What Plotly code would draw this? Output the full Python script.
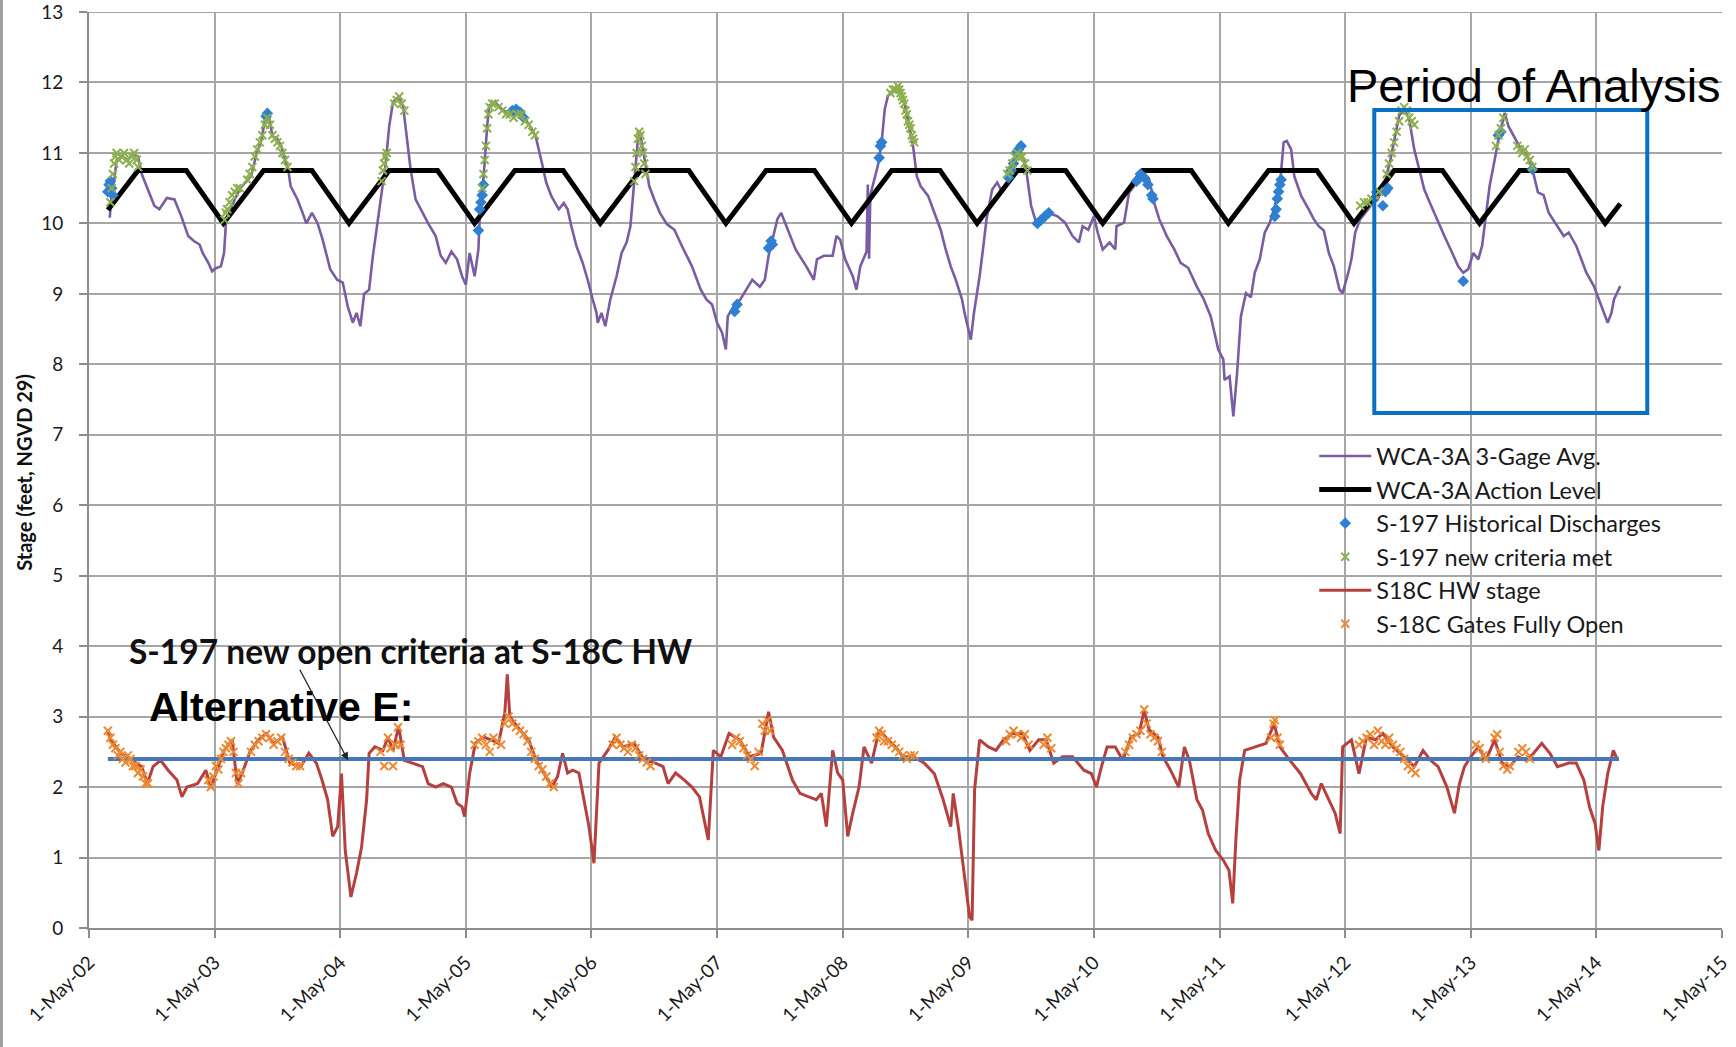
import plotly.graph_objects as go

# x values are years elapsed since 1-May-2002 (axis ticks are labelled with dates)
tick_vals = list(range(14))
tick_text = ["1-May-02", "1-May-03", "1-May-04", "1-May-05", "1-May-06", "1-May-07", "1-May-08",
             "1-May-09", "1-May-10", "1-May-11", "1-May-12", "1-May-13", "1-May-14", "1-May-15"]

# WCA-3A 3-Gage Avg.
purple_t = [0.165, 0.18, 0.20, 0.22, 0.265, 0.31, 0.35, 0.39, 0.42, 0.48, 0.52, 0.56, 0.62, 0.68, 0.735,
            0.79, 0.835, 0.88, 0.905, 0.95, 0.98, 1.005, 1.05, 1.075, 1.09, 1.12, 1.16, 1.205, 1.29, 1.33,
            1.375, 1.405, 1.43, 1.46, 1.50, 1.53, 1.56, 1.59, 1.605, 1.66, 1.70, 1.73, 1.775, 1.82, 1.86,
            1.92, 1.975, 2.02, 2.06, 2.10, 2.13, 2.16, 2.19, 2.23, 2.26, 2.29, 2.33, 2.36, 2.39, 2.42,
            2.46, 2.50, 2.53, 2.56, 2.60, 2.64, 2.70, 2.76, 2.80, 2.84, 2.885, 2.93, 2.97, 3.0, 3.03,
            3.07, 3.10, 3.11, 3.14, 3.17, 3.185, 3.23, 3.30, 3.37, 3.44, 3.51, 3.555, 3.60, 3.64, 3.68,
            3.74, 3.78, 3.81, 3.84, 3.88, 3.93, 3.97, 4.01, 4.04, 4.05, 4.08, 4.11, 4.15, 4.20, 4.24,
            4.28, 4.31, 4.34, 4.37, 4.385, 4.46, 4.50, 4.545, 4.60, 4.66, 4.72, 4.80, 4.87, 4.915, 4.96,
            5.0, 5.04, 5.07, 5.085, 5.13, 5.185, 5.23, 5.28, 5.34, 5.38, 5.41, 5.44, 5.48, 5.51, 5.57,
            5.625, 5.71, 5.77, 5.795, 5.85, 5.92, 5.95, 5.98, 6.02, 6.08, 6.11, 6.14, 6.18, 6.19, 6.20,
            6.21, 6.22, 6.28, 6.31, 6.335, 6.36, 6.41, 6.45, 6.49, 6.53, 6.56, 6.59, 6.62, 6.68, 6.73,
            6.78, 6.82, 6.86, 6.90, 6.95, 6.97, 7.02, 7.045, 7.09, 7.12, 7.145, 7.19, 7.23, 7.27, 7.33,
            7.39, 7.43, 7.46, 7.50, 7.54, 7.60, 7.64, 7.71, 7.77, 7.83, 7.88, 7.91, 7.955, 8.0, 8.03,
            8.07, 8.125, 8.17, 8.18, 8.24, 8.28, 8.32, 8.35, 8.395, 8.44, 8.48, 8.52, 8.58, 8.64, 8.69,
            8.75, 8.82, 8.875, 8.93, 8.99, 9.03, 9.04, 9.08, 9.11, 9.14, 9.17, 9.21, 9.25, 9.28, 9.32,
            9.36, 9.40, 9.44, 9.485, 9.51, 9.535, 9.57, 9.595, 9.65, 9.71, 9.75, 9.79, 9.83, 9.87, 9.91,
            9.955, 9.98, 10.025, 10.05, 10.08, 10.12, 10.16, 10.205, 10.26, 10.315, 10.36, 10.40, 10.43,
            10.47, 10.51, 10.55, 10.59, 10.63, 10.675, 10.73, 10.79, 10.84, 10.90, 10.94, 10.98, 11.02,
            11.06, 11.09, 11.12, 11.15, 11.19, 11.23, 11.26, 11.27, 11.30, 11.34, 11.40, 11.45, 11.49,
            11.535, 11.58, 11.62, 11.67, 11.74, 11.78, 11.84, 11.88, 11.92, 11.98, 12.02, 12.06, 12.09,
            12.12, 12.14, 12.19]
purple_v = [10.08, 10.4, 10.6, 10.9, 10.95, 10.9, 10.98, 10.95, 10.7, 10.44, 10.25, 10.2, 10.36, 10.34, 10.1,
            9.82, 9.75, 9.7, 9.58, 9.44, 9.32, 9.36, 9.39, 9.58, 10.0, 10.15, 10.34, 10.5, 10.67, 10.96,
            11.2, 11.53, 11.55, 11.24, 11.2, 11.1, 10.9, 10.72, 10.53, 10.34, 10.15, 10.0, 10.15, 10.0, 9.77,
            9.35, 9.2, 9.16, 8.82, 8.59, 8.73, 8.54, 9.0, 9.06, 9.54, 9.96, 10.44, 10.82, 11.38, 11.72,
            11.79, 11.67, 11.24, 10.77, 10.34, 10.2, 10.0, 9.82, 9.54, 9.44, 9.6, 9.49, 9.25, 9.13, 9.58,
            9.25, 9.63, 10.06, 10.63, 11.38, 11.67, 11.72, 11.6, 11.53, 11.57, 11.38, 11.24, 10.9, 10.58, 10.39,
            10.2, 10.29, 10.2, 9.96, 9.68, 9.44, 9.2, 8.92, 8.73, 8.59, 8.73, 8.54, 8.92, 9.25, 9.58,
            9.73, 9.96, 10.58, 11.2, 11.3, 10.53, 10.34, 10.15, 9.99, 9.91, 9.68, 9.39, 9.06, 8.92, 8.85,
            8.59, 8.45, 8.21, 8.68, 8.82, 8.92, 9.06, 9.2, 9.1, 9.2, 9.54, 9.77, 10.06, 10.15, 9.87,
            9.63, 9.39, 9.2, 9.49, 9.54, 9.54, 9.82, 9.77, 9.49, 9.25, 9.06, 9.39, 9.58, 9.6, 10.55,
            9.5, 10.4, 10.82, 11.15, 11.62, 11.81, 11.88, 11.95, 11.72, 11.38, 11.1, 10.67, 10.53, 10.39, 10.15,
            9.91, 9.63, 9.39, 9.2, 8.92, 8.73, 8.35, 8.73, 9.25, 9.68, 10.06, 10.48, 10.58, 10.44, 10.63,
            11.0, 10.96, 10.77, 10.25, 10.01, 10.06, 10.15, 10.1, 10.01, 9.82, 9.73, 9.96, 9.91, 10.1, 9.87,
            9.63, 9.73, 9.63, 9.96, 10.01, 10.44, 10.53, 10.67, 10.72, 10.63, 10.29, 10.06, 9.82, 9.63, 9.44,
            9.37, 9.1, 8.92, 8.68, 8.21, 8.07, 7.78, 7.83, 7.26, 7.88, 8.68, 9.01, 8.95, 9.3, 9.49,
            9.87, 10.01, 10.24, 10.63, 11.15, 11.17, 11.05, 10.67, 10.39, 10.2, 10.06, 9.96, 9.9, 9.58, 9.39,
            9.06, 9.01, 9.3, 9.49, 9.87, 10.06, 10.15, 10.25, 10.34, 10.58, 10.9, 11.24, 11.53,
            11.62, 11.48, 11.05, 10.77, 10.48, 10.29, 10.06, 9.82, 9.63, 9.39, 9.3, 9.35, 9.58,
            9.49, 9.68, 10.1, 10.53, 10.9, 11.29, 11.48, 11.57, 11.38, 11.24, 11.05, 10.96, 10.77,
            10.44, 10.4, 10.15, 10.01, 9.82, 9.87, 9.68, 9.49, 9.3, 9.11, 8.92, 8.73, 8.59,
            8.73, 8.92, 9.11]

# WCA-3A Action Level (schedule vertices)
action_t = [0.15, 0.39, 0.775, 1.07, 1.39, 1.775, 2.07, 2.39, 2.775, 3.07, 3.39, 3.775, 4.07, 4.39, 4.775,
            5.07, 5.39, 5.775, 6.07, 6.39, 6.775, 7.07, 7.39, 7.775, 8.07, 8.39, 8.775, 9.07, 9.39, 9.775,
            10.07, 10.39, 10.775, 11.07, 11.39, 11.775, 12.07, 12.19]
action_v = [10.19, 10.75, 10.75, 10.0, 10.75, 10.75, 10.0, 10.75, 10.75, 10.0, 10.75, 10.75, 10.0, 10.75, 10.75,
            10.0, 10.75, 10.75, 10.0, 10.75, 10.75, 10.0, 10.75, 10.75, 10.0, 10.75, 10.75, 10.0, 10.75, 10.75,
            10.0, 10.75, 10.75, 10.0, 10.75, 10.75, 10.0, 10.28]

# S-197 Historical Discharges
hist_t = [0.15, 0.16, 0.17, 0.18, 0.19, 1.41, 1.42, 3.10, 3.11, 3.12, 3.13, 3.14, 3.37, 3.40, 3.43, 3.46,
          5.14, 5.16, 5.41, 5.43, 5.44, 6.29, 6.30, 6.31, 7.32, 7.34, 7.36, 7.38, 7.40, 7.42,
          7.55, 7.58, 7.61, 7.64, 8.34, 8.37, 8.40, 8.43, 8.46, 8.47, 9.44, 9.45, 9.46, 9.47, 9.48, 9.49,
          10.30, 10.32, 10.34, 10.94, 11.22, 11.24, 11.49]
hist_v = [10.45, 10.55, 10.6, 10.5, 10.4, 11.52, 11.56, 9.9, 10.2, 10.3, 10.4, 10.55, 11.6, 11.62, 11.58, 11.5,
          8.75, 8.85, 9.65, 9.75, 9.7, 10.93, 11.1, 11.15, 10.65, 10.75, 10.85, 11.0, 11.05, 11.1,
          10.0, 10.05, 10.1, 10.15, 10.6, 10.7, 10.65, 10.55, 10.4, 10.35, 10.1, 10.2, 10.35, 10.45, 10.55, 10.62,
          10.25, 10.45, 10.5, 9.18, 11.25, 11.3, 10.77]

# S-197 new criteria met
crit_t = [0.17, 0.18, 0.19, 0.20, 0.21, 0.22, 0.24, 0.26, 0.28, 0.30, 0.32, 0.34, 0.36, 0.38, 0.39,
          1.08, 1.09, 1.10, 1.12, 1.14, 1.16, 1.18, 1.20,
          1.26, 1.28, 1.30, 1.32, 1.34, 1.36, 1.38, 1.40, 1.42, 1.44, 1.46, 1.48, 1.50, 1.52, 1.54, 1.56, 1.58,
          2.33, 2.34, 2.35, 2.36, 2.37, 2.43, 2.45, 2.47, 2.49, 2.51,
          3.13, 3.14, 3.15, 3.16, 3.17, 3.18, 3.19, 3.21, 3.23, 3.26, 3.29, 3.32, 3.35, 3.38, 3.41, 3.44,
          3.47, 3.50, 3.53, 3.55,
          4.34, 4.35, 4.36, 4.37, 4.38, 4.39, 4.40, 4.41, 4.42, 4.43,
          6.38, 6.40, 6.42, 6.44, 6.45, 6.46, 6.47, 6.48, 6.49, 6.50, 6.51, 6.52, 6.53, 6.54, 6.55, 6.56, 6.57,
          7.31, 7.33, 7.35, 7.37, 7.39, 7.41, 7.43, 7.45, 7.47,
          10.12, 10.15, 10.18, 10.21, 10.24, 10.27,
          10.33, 10.35, 10.37, 10.39, 10.41, 10.43, 10.45, 10.47, 10.49, 10.51, 10.53, 10.55,
          11.20, 11.22, 11.24, 11.26, 11.37, 11.39, 11.41, 11.43, 11.45, 11.47, 11.49]
crit_v = [10.3, 10.5, 10.7, 10.85, 10.95, 11.0, 10.9, 10.95, 11.0, 10.9, 10.85, 10.95, 11.0, 10.9, 10.8,
          10.05, 10.15, 10.2, 10.3, 10.4, 10.45, 10.5, 10.5,
          10.62, 10.7, 10.8, 10.95, 11.05, 11.15, 11.25, 11.4, 11.5, 11.4, 11.25, 11.2, 11.15, 11.1, 11.0, 10.9, 10.8,
          10.6, 10.75, 10.85, 10.95, 11.0, 11.7, 11.75, 11.8, 11.7, 11.6,
          10.5, 10.7, 10.9, 11.1, 11.35, 11.55, 11.65, 11.7, 11.7, 11.65, 11.6, 11.55, 11.55, 11.5, 11.55, 11.55,
          11.45, 11.4, 11.3, 11.25,
          10.6, 10.8, 11.0, 11.2, 11.3, 11.25, 11.1, 11.0, 10.85, 10.7,
          11.85, 11.9, 11.9, 11.95, 11.9, 11.85, 11.8, 11.75, 11.7, 11.6, 11.55, 11.45, 11.4, 11.35, 11.25, 11.2, 11.15,
          10.7, 10.75, 10.85, 10.95, 11.0, 10.95, 10.95, 10.85, 10.75,
          10.25, 10.3, 10.3, 10.35, 10.4, 10.45,
          10.7, 10.85, 11.0, 11.15, 11.3, 11.45, 11.6, 11.65, 11.6, 11.5, 11.45, 11.4,
          11.1, 11.25, 11.35, 11.5, 11.1, 11.05, 11.0, 11.05, 10.95, 10.9, 10.8]

# S18C HW stage
red_t = [0.15, 0.17, 0.255, 0.34, 0.42, 0.465, 0.51, 0.57, 0.63, 0.70, 0.74, 0.78, 0.865, 0.93, 0.97,
         1.03, 1.075, 1.14, 1.18, 1.22, 1.285, 1.35, 1.41, 1.475, 1.54, 1.60, 1.685, 1.75, 1.81, 1.855,
         1.90, 1.94, 1.98, 2.01, 2.04, 2.085, 2.13, 2.17, 2.21, 2.23, 2.275, 2.34, 2.38, 2.42, 2.465,
         2.51, 2.57, 2.655, 2.70, 2.76, 2.82, 2.885, 2.93, 2.97, 2.99, 3.03, 3.075, 3.14, 3.20, 3.26,
         3.31, 3.33, 3.35, 3.37, 3.43, 3.50, 3.56, 3.62, 3.685, 3.73, 3.77, 3.81, 3.85, 3.90, 3.94,
         3.98, 4.02, 4.06, 4.13, 4.19, 4.25, 4.34, 4.42, 4.51, 4.57, 4.61, 4.67, 4.74, 4.80, 4.86,
         4.93, 4.97, 5.03, 5.095, 5.18, 5.26, 5.35, 5.41, 5.45, 5.52, 5.60, 5.66, 5.73, 5.79, 5.83,
         5.87, 5.92, 5.96, 6.0, 6.04, 6.08, 6.13, 6.17, 6.23, 6.29, 6.36, 6.42, 6.48, 6.565, 6.65,
         6.73, 6.80, 6.86, 6.88, 6.92, 6.97, 7.01, 7.03, 7.05, 7.09, 7.16, 7.22, 7.28, 7.35, 7.43,
         7.49, 7.56, 7.62, 7.68, 7.75, 7.83, 7.92, 7.98, 8.02, 8.06, 8.105, 8.17, 8.23, 8.295, 8.36,
         8.40, 8.44, 8.51, 8.55, 8.61, 8.675, 8.72, 8.76, 8.82, 8.865, 8.91, 8.97, 9.03, 9.075, 9.105,
         9.13, 9.16, 9.20, 9.29, 9.37, 9.435, 9.48, 9.56, 9.645, 9.73, 9.77, 9.81, 9.86, 9.92, 9.96,
         9.98, 10.05, 10.11, 10.17, 10.24, 10.30, 10.38, 10.47, 10.55, 10.62, 10.68, 10.74, 10.81, 10.87, 10.91,
         10.95, 11.0, 11.06, 11.12, 11.19, 11.25, 11.31, 11.375, 11.44, 11.50, 11.565, 11.63, 11.69, 11.78, 11.84,
         11.90, 11.945, 11.99, 12.02, 12.05, 12.09, 12.135, 12.17]
red_v = [2.81, 2.67, 2.48, 2.38, 2.29, 2.05, 2.29, 2.38, 2.24, 2.1, 1.86, 2.0, 2.05, 2.24, 2.0,
         2.29, 2.52, 2.67, 2.05, 2.2, 2.52, 2.67, 2.76, 2.62, 2.71, 2.34, 2.29, 2.48, 2.34, 2.1,
         1.82, 1.3, 1.44, 2.19, 1.1, 0.44, 0.78, 1.15, 1.82, 2.48, 2.57, 2.52, 2.71, 2.52, 2.86,
         2.38, 2.34, 2.29, 2.05, 2.0, 2.05, 2.0, 1.77, 1.72, 1.58, 2.19, 2.62, 2.71, 2.67, 2.62,
         3.05, 3.6, 3.0, 2.95, 2.81, 2.67, 2.38, 2.2, 2.0, 2.15, 2.48, 2.2, 2.24, 2.2, 1.82,
         1.44, 0.92, 2.34, 2.52, 2.71, 2.57, 2.62, 2.38, 2.34, 2.29, 2.05, 2.2, 2.1, 2.0, 1.86,
         1.25, 2.52, 2.43, 2.76, 2.67, 2.43, 2.48, 3.07, 2.71, 2.52, 2.1, 1.91, 1.86, 1.82, 1.91,
         1.44, 2.52, 2.2, 2.1, 1.3, 1.63, 2.0, 2.57, 2.34, 2.81, 2.67, 2.57, 2.43, 2.43, 2.34,
         2.19, 1.82, 1.44, 1.91, 1.44, 0.68, 0.16, 0.11, 1.96, 2.67, 2.57, 2.52, 2.67, 2.76, 2.76,
         2.52, 2.67, 2.67, 2.34, 2.43, 2.43, 2.24, 2.19, 2.0, 2.29, 2.57, 2.57, 2.38, 2.71, 2.76,
         3.09, 2.81, 2.71, 2.43, 2.24, 2.0, 2.57, 2.38, 1.82, 1.67, 1.34, 1.1, 0.96, 0.82, 0.35,
         1.25, 2.1, 2.52, 2.57, 2.62, 2.9, 2.57, 2.38, 2.19, 1.91, 1.82, 2.05, 1.86, 1.63, 1.34,
         2.57, 2.67, 2.19, 2.71, 2.67, 2.76, 2.57, 2.43, 2.29, 2.52, 2.38, 2.29, 2.0, 1.63, 2.05,
         2.29, 2.43, 2.57, 2.38, 2.67, 2.34, 2.29, 2.43, 2.38, 2.48, 2.62, 2.48, 2.29, 2.34, 2.34,
         2.1, 1.72, 1.48, 1.1, 1.72, 2.19, 2.52, 2.38]

# S-197 new open criteria at S-18C HW (Alternative E)
criteria_t = [0.15, 12.18]
criteria_v = [2.4, 2.4]

# S-18C Gates Fully Open
gate_t = [0.15, 0.17, 0.19, 0.21, 0.23, 0.25, 0.27, 0.29, 0.31, 0.33, 0.35, 0.37, 0.39, 0.41, 0.43, 0.45, 0.47,
          0.95, 0.97, 0.99, 1.01, 1.03, 1.05, 1.07, 1.09, 1.11, 1.13, 1.15, 1.17, 1.19, 1.21,
          1.29, 1.32, 1.35, 1.38, 1.41, 1.44, 1.47, 1.50, 1.53, 1.56, 1.59, 1.62, 1.65, 1.68,
          2.32, 2.35, 2.38, 2.40, 2.42, 2.44, 2.46, 2.48,
          3.07, 3.10, 3.13, 3.16, 3.19, 3.22, 3.25, 3.28, 3.31, 3.34, 3.37, 3.40, 3.43, 3.46, 3.49, 3.52,
          3.55, 3.58, 3.61, 3.64, 3.67, 3.70,
          4.17, 4.20, 4.23, 4.26, 4.29, 4.32, 4.35, 4.38, 4.41, 4.44, 4.47,
          5.12, 5.15, 5.18, 5.21, 5.24, 5.27, 5.30, 5.33, 5.36, 5.38, 5.40, 5.42,
          6.27, 6.29, 6.31, 6.33, 6.36, 6.39, 6.42, 6.45, 6.48, 6.51, 6.54, 6.57,
          7.30, 7.33, 7.36, 7.39, 7.42, 7.45, 7.48, 7.60, 7.63, 7.66,
          8.25, 8.28, 8.31, 8.34, 8.37, 8.40, 8.42, 8.45, 8.48, 8.51, 8.54,
          9.41, 9.43, 9.44, 9.46, 9.48,
          10.11, 10.14, 10.17, 10.20, 10.23, 10.26, 10.29, 10.32, 10.35, 10.38, 10.41, 10.44, 10.47, 10.50,
          10.53, 10.56,
          11.04, 11.07, 11.10, 11.12, 11.19, 11.21, 11.23, 11.26, 11.29, 11.31, 11.38, 11.41, 11.44, 11.47]
gate_v = [2.8, 2.7, 2.6, 2.55, 2.45, 2.5, 2.4, 2.35, 2.45, 2.4, 2.3, 2.3, 2.2, 2.25, 2.15, 2.05, 2.05,
          2.1, 2.0, 2.15, 2.3, 2.25, 2.4, 2.5, 2.55, 2.6, 2.65, 2.5, 2.2, 2.05, 2.2,
          2.5, 2.6, 2.65, 2.7, 2.75, 2.7, 2.6, 2.65, 2.7, 2.5, 2.4, 2.35, 2.3, 2.3,
          2.5, 2.3, 2.7, 2.55, 2.3, 2.6, 2.85, 2.6,
          2.6, 2.65, 2.7, 2.6, 2.5, 2.7, 2.65, 2.6, 2.9, 3.0, 2.9, 2.85, 2.8, 2.75, 2.65, 2.5,
          2.4, 2.3, 2.25, 2.15, 2.05, 2.0,
          2.6, 2.7, 2.6, 2.55, 2.5, 2.6, 2.55, 2.45, 2.4, 2.35, 2.3,
          2.6, 2.7, 2.65, 2.55, 2.45, 2.4, 2.3, 2.5, 2.9, 2.8, 2.95, 2.8,
          2.7, 2.8, 2.75, 2.65, 2.65, 2.6, 2.55, 2.5, 2.45, 2.4, 2.45, 2.45,
          2.65, 2.75, 2.8, 2.75, 2.7, 2.75, 2.6, 2.6, 2.7, 2.55,
          2.5, 2.6, 2.7, 2.75, 2.8, 3.1, 2.9, 2.75, 2.7, 2.65, 2.5,
          2.7, 2.9, 2.95, 2.7, 2.6,
          2.6, 2.65, 2.7, 2.75, 2.6, 2.8, 2.65, 2.6, 2.7, 2.6, 2.55, 2.5, 2.4, 2.3,
          2.25, 2.2,
          2.6, 2.55, 2.45, 2.4, 2.7, 2.75, 2.5, 2.3, 2.25, 2.3, 2.5, 2.55, 2.5, 2.4]

# Period of analysis box (years since 1-May-02, stage)
period_x = [10.232, 12.405]
period_y = [7.31, 11.61]

GRID = "#a6a6a6"
fig = go.Figure()

fig.add_trace(go.Scatter(x=purple_t, y=purple_v, mode="lines", name="WCA-3A 3-Gage Avg.",
                         line=dict(color="#7a5ca3", width=2.6)))
fig.add_trace(go.Scatter(x=action_t, y=action_v, mode="lines", name="WCA-3A Action Level",
                         line=dict(color="#000000", width=5)))
fig.add_trace(go.Scatter(x=hist_t, y=hist_v, mode="markers", name="S-197 Historical Discharges",
                         marker=dict(symbol="diamond", size=9, color="#2f80d2",
                                     line=dict(width=0))))
fig.add_trace(go.Scatter(x=crit_t, y=crit_v, mode="markers", name="S-197 new criteria met",
                         marker=dict(symbol="x-thin", size=8, color="#8db04f",
                                     line=dict(width=2, color="#8db04f"))))
fig.add_trace(go.Scatter(x=red_t, y=red_v, mode="lines", name="S18C HW stage",
                         line=dict(color="#b5403d", width=3)))
fig.add_trace(go.Scatter(x=criteria_t, y=criteria_v, mode="lines", showlegend=False,
                         line=dict(color="#4677b8", width=4)))
fig.add_trace(go.Scatter(x=gate_t, y=gate_v, mode="markers", name="S-18C Gates Fully Open",
                         marker=dict(symbol="x-thin", size=8, color="#ec8a34",
                                     line=dict(width=2, color="#ec8a34"))))

fig.add_shape(type="rect", xref="x", yref="y", x0=period_x[0], x1=period_x[1],
              y0=period_y[0], y1=period_y[1], line=dict(color="#0a70c4", width=4),
              fillcolor="rgba(0,0,0,0)")
# chart border at the left edge of the page
fig.add_shape(type="line", xref="paper", yref="paper", x0=-0.0536, x1=-0.0536, y0=-0.14, y1=1.02,
              line=dict(color="#a0a0a0", width=3))
# top gridline (13 ft)
fig.add_shape(type="line", xref="paper", yref="y", x0=0, x1=1, y0=13, y1=13,
              line=dict(color=GRID, width=2), layer="below")

fig.add_annotation(x=11.506, y=11.95, xref="x", yref="y", text="Period of Analysis", showarrow=False,
                   font=dict(family="Liberation Sans, Arial", size=47, color="#000000"),
                   xanchor="center", yanchor="middle")
fig.add_annotation(x=0.30, y=3.93, xref="x", yref="y", text="<b>S-197 new open criteria at S-18C HW</b>",
                   showarrow=False, font=dict(family="Lato", size=33.5, color="#111111"),
                   xanchor="left", yanchor="middle")
fig.add_annotation(x=0.46, y=3.14, xref="x", yref="y", text="<b>Alternative E:</b>", showarrow=False,
                   font=dict(family="Liberation Sans, Arial", size=41, color="#000000"),
                   xanchor="left", yanchor="middle")
fig.add_annotation(x=2.062, y=2.38, xref="x", yref="y", ax=-49, ay=-92, text="", showarrow=True,
                   arrowhead=2, arrowsize=1.2, arrowwidth=1.3, arrowcolor="#222222")
fig.add_annotation(x=-0.0398, y=0.497, xref="paper", yref="paper", text="<b>Stage (feet, NGVD 29)</b>",
                   showarrow=False, textangle=-90, font=dict(family="Lato", size=20, color="#111111"),
                   xanchor="center", yanchor="middle")

fig.update_layout(
    width=1736, height=1047,
    margin=dict(l=89, r=14, t=12, b=119, autoexpand=False),
    paper_bgcolor="#ffffff", plot_bgcolor="#ffffff",
    showlegend=True,
    legend=dict(x=0.7503, y=0.539, xanchor="left", yanchor="top", bgcolor="rgba(0,0,0,0)",
                borderwidth=0, itemwidth=52, font=dict(family="Lato", size=23.5, color="#1a1a1a"),
                tracegroupgap=0),
    xaxis=dict(range=[0, 13], tickmode="array", tickvals=tick_vals, ticktext=tick_text,
               tickangle=-45, showgrid=True, gridcolor=GRID, gridwidth=2, automargin=False,
               showline=True, linecolor="#8c8c8c", linewidth=2, ticks="outside", ticklen=8,
               tickcolor="#8c8c8c", tickwidth=2, zeroline=False, ticklabeloverflow="allow",
               tickfont=dict(family="Lato", size=19, color="#1a1a1a"), ticklabelstandoff=6),
    yaxis=dict(range=[0, 13], dtick=1, tick0=0, showgrid=True, gridcolor=GRID, gridwidth=2,
               automargin=False, ticklabeloverflow="allow",
               showline=True, linecolor="#8c8c8c", linewidth=2, ticks="outside", ticklen=8,
               tickcolor="#8c8c8c", tickwidth=2, zeroline=False,
               tickfont=dict(family="Lato", size=19, color="#1a1a1a"), ticklabelstandoff=12),
)

fig.write_html("out.html")
